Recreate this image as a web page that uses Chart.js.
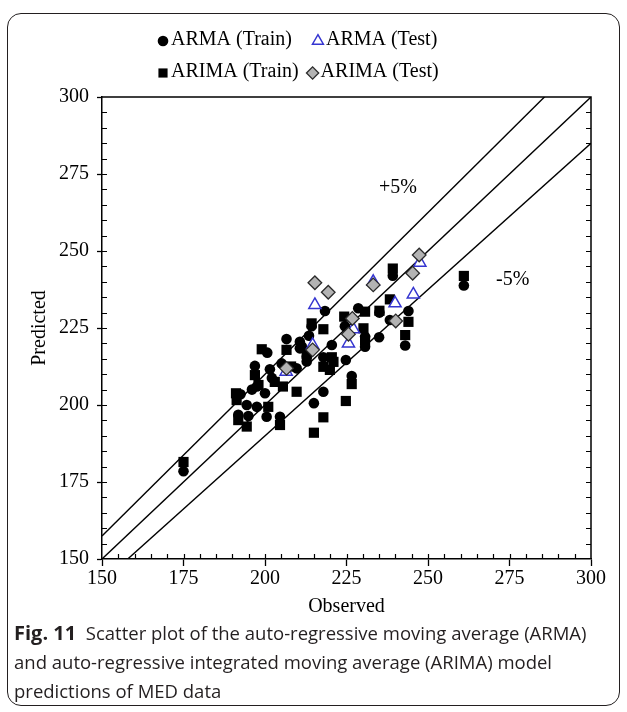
<!DOCTYPE html>
<html><head><meta charset="utf-8">
<script src="https://cdn.jsdelivr.net/npm/chart.js@4.4.1/dist/chart.umd.min.js"></script>
<style>
html,body{margin:0;padding:0;background:#fff;}
#wrap{position:relative;width:627px;height:712px;overflow:hidden;background:#fff;}
#frame{position:absolute;left:7px;top:13px;width:611px;height:691px;border:1.5px solid #231f20;border-radius:14px;}
#cv{position:absolute;left:0;top:0;}
#cap{position:absolute;left:14px;top:618px;width:608px;font-family:'Open Sans',sans-serif;font-size:18.5px;line-height:29px;color:#231f20;white-space:nowrap;}
#cap b{font-weight:700;font-size:20px;}
</style></head>
<body><div id="wrap"><div id="frame"></div><canvas id="cv" width="627" height="640"></canvas>
<div id="cap"><b>Fig. 11</b>&nbsp;&nbsp;Scatter plot of the auto-regressive moving average (ARMA)<br>and auto-regressive integrated moving average (ARIMA) model<br>predictions of MED data</div></div>
<script>
// ---- data (Observed x, Predicted y) ----
const armaTrainObs = [175, 261, 239.2, 244, 243, 238.3, 235.1, 235, 228.6, 224.5, 230.7, 230.7, 214.3, 218.4, 211.3, 212.8, 217.9, 224.8, 226.6, 217.9, 215, 206.6, 210.7, 210.7, 200.7, 196.9, 201.5, 205.1, 209.7, 212.8, 202.1, 197.5, 200, 194.4, 197.5, 191.8, 194.9, 200.5, 204.6, 192.5, 196, 213.5, 220.5];
const armaTrainPred = [178.5, 238.8, 242, 230.5, 219.3, 227.6, 230, 222, 231.4, 225.6, 222.2, 218.9, 225.6, 230.5, 219, 215.7, 215.5, 214.6, 209.4, 204.3, 200.6, 221.4, 220.5, 218.4, 217, 212.7, 211.6, 213.5, 211.9, 214.1, 208.8, 206, 203.8, 200, 199.4, 196.8, 196.4, 196.2, 196.2, 203.5, 205, 222.5, 219.5];
const arimaTrainObs = [175, 261, 239.2, 238.3, 244, 243, 235.1, 230.7, 224.3, 230.2, 230.7, 217.9, 214.3, 220.5, 217.9, 219.9, 226.6, 224.8, 217.9, 215, 209.7, 199, 206.6, 196.9, 191.1, 191.3, 201, 198, 191.8, 194.4, 204.6, 203, 205.5, 212.8, 208, 221];
const arimaTrainPred = [181.5, 241.9, 244.3, 234.3, 227, 222.7, 230.6, 230.3, 228.7, 224.9, 221, 224.6, 226.5, 215.5, 212.4, 211.4, 206.8, 201.3, 196, 191, 204.3, 218.1, 217.9, 209.7, 203.8, 201.6, 199.4, 206.5, 195.1, 193, 193.5, 207.5, 206, 216.5, 212.5, 214];
const armaTestObs = [206.5, 214.6, 215.3, 225.6, 227.1, 233.2, 239.9, 245.5, 247.5];
const armaTestPred = [210.8, 219.5, 232.5, 220, 224.6, 240, 233, 235.9, 246.2];
const arimaTestObs = [206.6, 214.6, 215.3, 219.4, 225.6, 226.8, 233.2, 240.1, 245.3, 247.3];
const arimaTestPred = [211.9, 217.9, 239.7, 236.6, 223, 228.1, 239, 227.3, 242.8, 248.7];
// reference lines (+5%, 1:1, -5%)
const refX = [150, 300];
const plus5Y = [157.5, 315];
const equalY = [150, 300];
const minus5Y = [142.5, 285];
const xTicks = [150, 175, 200, 225, 250, 275, 300];
const yTicks = [150, 175, 200, 225, 250, 275, 300];
const seriesNames = ['ARMA (Train)', 'ARMA (Test)', 'ARIMA (Train)', 'ARIMA (Test)'];

const pts = (xs, ys) => xs.map((x, i) => ({x: x, y: ys[i]}));
const SERIF = "'Liberation Serif', 'Times New Roman', serif";

const dsArimaTest = {label: seriesNames[3], data: pts(arimaTestObs, arimaTestPred), pointStyle: 'rectRot', pointRadius: 6.8, backgroundColor: '#b3b3b3', borderColor: '#2b2b2b', borderWidth: 1.3};
const dsArmaTest = {label: seriesNames[1], data: pts(armaTestObs, armaTestPred), pointStyle: 'triangle', pointRadius: 7, backgroundColor: '#ffffff', borderColor: '#3535d0', borderWidth: 1.5};
const dsArmaTrain = {label: seriesNames[0], data: pts(armaTrainObs, armaTrainPred), pointStyle: 'circle', pointRadius: 5.3, backgroundColor: '#000', borderColor: '#000', borderWidth: 0};
const dsArimaTrain = {label: seriesNames[2], data: pts(arimaTrainObs, arimaTrainPred), pointStyle: 'rect', pointRadius: 7.2, backgroundColor: '#000', borderColor: '#000', borderWidth: 0};
const lineDs = (ys) => ({type: 'line', data: pts(refX, ys), borderColor: '#000', borderWidth: 1.4, pointRadius: 0, showLine: true, fill: false, clip: 0, tension: 0});

const legendItems = [
  [dsArmaTrain, dsArmaTest],
  [dsArimaTrain, dsArimaTest]
];

const extrasPlugin = {
  id: 'extras',
  afterDraw(chart) {
    const {ctx, chartArea: a, scales: {x, y}} = chart;
    const H = Chart.helpers;
    ctx.save();
    // frame top & right
    ctx.strokeStyle = '#000';
    ctx.lineWidth = 1.5;
    ctx.beginPath();
    ctx.moveTo(a.left, a.top); ctx.lineTo(a.right, a.top); ctx.lineTo(a.right, a.bottom);
    ctx.stroke();
    // inner ticks
    ctx.lineWidth = 1.2;
    ctx.beginPath();
    for (let v = 155; v < 300; v += 5) {
      const px = Math.round(x.getPixelForValue(v)) + 0.5;
      ctx.moveTo(px, a.bottom); ctx.lineTo(px, a.bottom - 5);
      const py = Math.round(y.getPixelForValue(v)) + 0.5;
      ctx.moveTo(a.left, py); ctx.lineTo(a.left + 5, py);
      ctx.moveTo(a.right, py); ctx.lineTo(a.right - 5, py);
    }
    ctx.stroke();
    // percentage labels
    ctx.fillStyle = '#000';
    ctx.font = '20px ' + SERIF;
    ctx.textAlign = 'center';
    ctx.textBaseline = 'middle';
    ctx.fillText('+5%', x.getPixelForValue(240.8), y.getPixelForValue(270.5));
    ctx.fillText('-5%', x.getPixelForValue(276), y.getPixelForValue(240.6));
    // legend
    ctx.textAlign = 'left';
    const rowY = [40, 72];
    const gaps = [20, 8];
    legendItems.forEach((row, r) => {
      let cx = 157;
      row.forEach((ds) => {
        const style = {pointStyle: ds.pointStyle, radius: ds.pointRadius * (ds.pointStyle === 'circle' ? 1 : 0.9), rotation: 0, borderWidth: ds.borderWidth};
        ctx.fillStyle = ds.backgroundColor;
        ctx.strokeStyle = ds.borderColor;
        ctx.lineWidth = ds.borderWidth || 0.01;
        H.drawPoint(ctx, style, cx + 6, rowY[r] + 1);
        ctx.fillStyle = '#000';
        ctx.fillText(ds.label, cx + 14, rowY[r]);
        cx += 14 + ctx.measureText(ds.label).width + gaps[r];
      });
    });
    ctx.restore();
  }
};

new Chart(document.getElementById('cv'), {
  type: 'scatter',
  data: {datasets: [dsArimaTest, dsArmaTest, dsArmaTrain, dsArimaTrain, lineDs(plus5Y), lineDs(equalY), lineDs(minus5Y)]},
  options: {
    responsive: false,
    animation: false,
    events: [],
    layout: {padding: {left: 22, top: 97, right: 36, bottom: 21}},
    plugins: {legend: {display: false}, tooltip: {enabled: false}},
    scales: {
      x: {
        type: 'linear', min: 150, max: 300,
        afterBuildTicks: (s) => { s.ticks = xTicks.map(v => ({value: v})); },
        afterFit: (s) => { s.height = 60; },
        ticks: {autoSkip: false, maxRotation: 0, padding: 1, color: '#000', font: {family: SERIF, size: 20}},
        grid: {display: true, drawOnChartArea: false, drawTicks: true, tickLength: 7, tickColor: '#000', tickWidth: 1.3},
        border: {display: true, color: '#000', width: 1.5},
        title: {display: true, text: 'Observed', color: '#000', font: {family: SERIF, size: 20}, padding: {top: 0, bottom: 0}}
      },
      y: {
        type: 'linear', min: 150, max: 300,
        afterBuildTicks: (s) => { s.ticks = yTicks.map(v => ({value: v})); },
        afterFit: (s) => { s.width = 80; },
        ticks: {autoSkip: false, padding: 8, color: '#000', font: {family: SERIF, size: 20}},
        grid: {display: true, drawOnChartArea: false, drawTicks: true, tickLength: 5, tickColor: '#000', tickWidth: 1.3},
        border: {display: true, color: '#000', width: 1.5},
        title: {display: true, text: 'Predicted', color: '#000', font: {family: SERIF, size: 20}, padding: {top: 6, bottom: 0}}
      }
    }
  },
  plugins: [extrasPlugin]
});
</script>
</body></html>
